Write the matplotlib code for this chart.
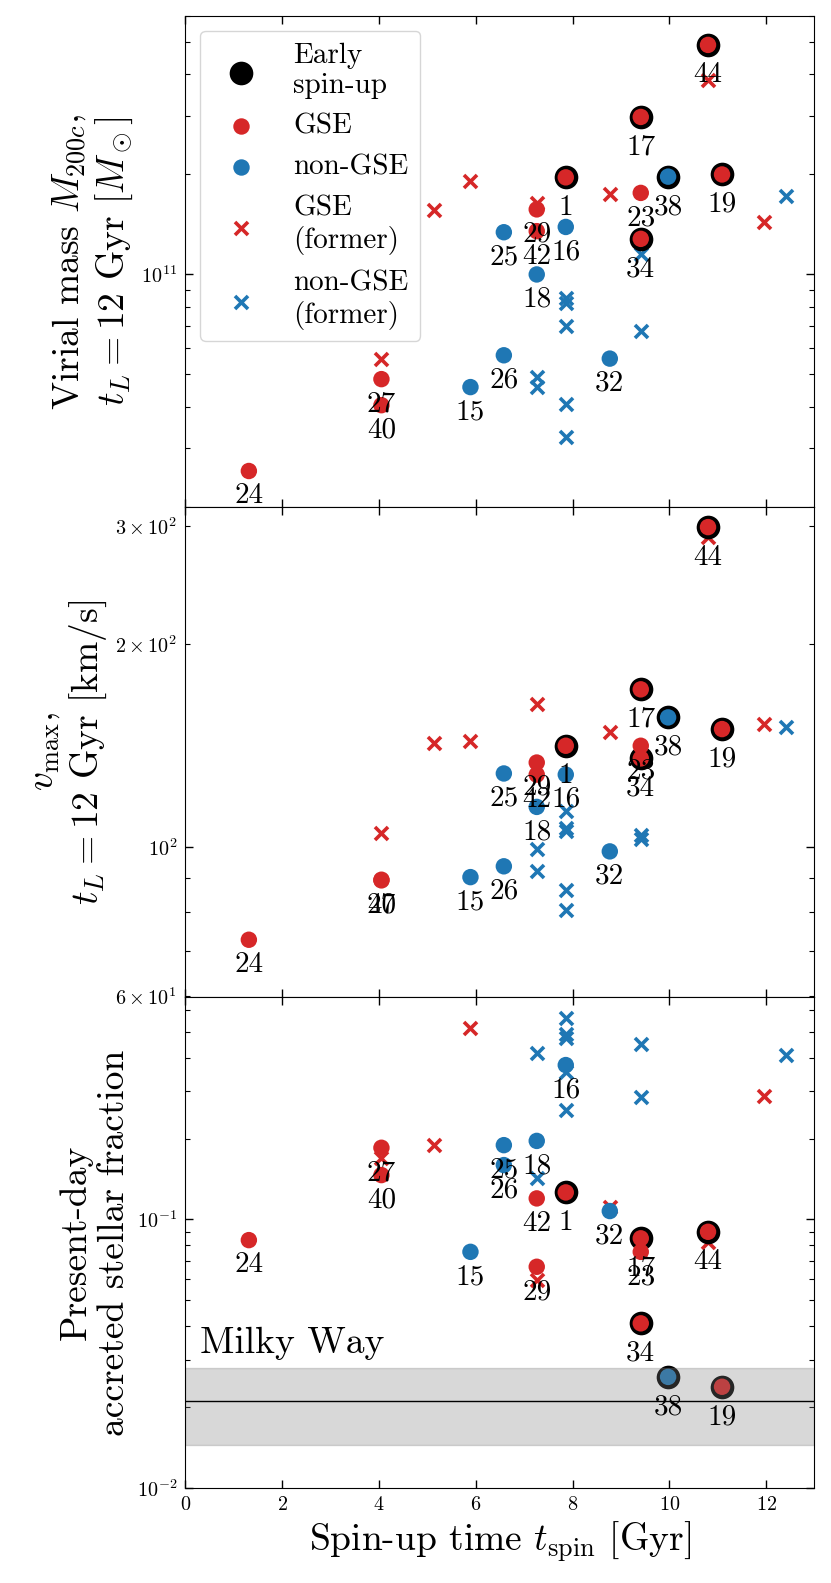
import numpy as np
import matplotlib
matplotlib.use('Agg')
import matplotlib.pyplot as plt

plt.rcParams['font.family'] = 'serif'
plt.rcParams['font.serif'] = ['cmr10']
plt.rcParams['mathtext.fontset'] = 'cm'
plt.rcParams['axes.formatter.use_mathtext'] = True
plt.rcParams['axes.unicode_minus'] = False

RED = '#d62728'
BLUE = '#1f77b4'

# labelled halos
halo_ids = [24, 27, 40, 15, 25, 26, 29, 42, 18, 1, 16, 32, 17, 23, 34, 38, 44, 19]
t_spin = [1.31, 4.05, 4.05, 5.89, 6.58, 6.58, 7.26, 7.26, 7.26, 7.86, 7.86, 8.77,
          9.41, 9.41, 9.41, 9.975, 10.80, 11.09]
is_gse = [1, 1, 1, 0, 0, 0, 1, 1, 0, 1, 0, 0, 1, 1, 1, 0, 1, 1]
early_spinup = [0, 0, 0, 0, 0, 0, 0, 0, 0, 1, 0, 0, 1, 0, 1, 1, 1, 1]

m200c = [0.256e11, 0.484e11, 0.404e11, 0.458e11, 1.34e11, 0.571e11, 1.57e11, 1.35e11,
         1.00e11, 1.96e11, 1.39e11, 0.558e11, 2.98e11, 1.76e11, 1.28e11, 1.97e11,
         4.91e11, 2.00e11]
vmax = [72.8, 89.4, 89.2, 90.2, 128.6, 93.6, 133.5, 128.1, 114.7, 141.4, 128.1, 98.5,
        171.5, 141.4, 135.4, 155.8, 298.8, 149.7]
acc_frac = [0.0837, 0.1848, 0.1462, 0.0757, 0.189, 0.1593, 0.0666, 0.1197, 0.196,
            0.126, 0.3756, 0.1074, 0.0850, 0.0757, 0.041, 0.0259, 0.0899, 0.0238]

# former GSE hosts (red crosses)
t_former_gse = [4.05, 5.13, 5.89, 7.26, 8.77, 10.80, 11.96]
m200c_former_gse = [0.555e11, 1.56e11, 1.91e11, 1.64e11, 1.75e11, 3.85e11, 1.44e11]
vmax_former_gse = [104.9, 142.5, 143.6, 162.9, 148.3, 289.3, 152.2]
frac_former_gse = [0.1687, 0.189, 0.514, 0.0594, 0.1114, 0.0821, 0.2886]

# former non-GSE hosts (blue crosses)
t_former_non = [7.26, 7.26, 7.86, 7.86, 7.86, 7.86, 7.86, 9.41, 9.41, 12.41]
m200c_former_non = [0.492e11, 0.458e11, 0.847e11, 0.818e11, 0.699e11, 0.407e11,
                    0.324e11, 1.156e11, 0.676e11, 1.72e11]
vmax_former_non = [99.4, 92.1, 113.0, 106.6, 105.6, 86.4, 80.5, 104.1, 102.7, 150.8]
frac_former_non = [0.415, 0.1429, 0.5605, 0.4887, 0.472, 0.3527, 0.2546, 0.4486,
                   0.2861, 0.409]

# Milky Way accreted fraction
mw_frac = 0.021
mw_frac_lo = 0.0145
mw_frac_hi = 0.028

ylabels = ['Virial mass $M_{200c}$,\n$t_L = 12$ Gyr $[M_\\odot]$',
           '$v_{\\rm max}$,\n$t_L = 12$ Gyr [km/s]',
           'Present-day\naccreted stellar fraction']
ylims = [(2.0e10, 6.0e11), (59.8, 320.5), (0.01, 0.672)]

fig, axes = plt.subplots(3, 1, figsize=(8.31, 15.83), dpi=100, sharex=True)
fig.subplots_adjust(left=0.2232, right=0.9801, top=0.9899, bottom=0.0601, hspace=0)

t = np.array(t_spin)
gse = np.array(is_gse, dtype=bool)
early = np.array(early_spinup, dtype=bool)
colors = np.where(gse, RED, BLUE)

panel_data = [(m200c, m200c_former_gse, m200c_former_non),
              (vmax, vmax_former_gse, vmax_former_non),
              (acc_frac, frac_former_gse, frac_former_non)]

X_SIZE = 88
X_LW = 2.6

for i, ax in enumerate(axes):
    y, y_fg, y_fn = panel_data[i]
    y = np.array(y)
    ax.set_yscale('log')

    ax.scatter(t_former_gse, y_fg, marker='x', s=X_SIZE, linewidths=X_LW, color=RED)
    ax.scatter(t_former_non, y_fn, marker='x', s=X_SIZE, linewidths=X_LW, color=BLUE)
    ax.scatter(t[early], y[early], s=290, color='k', linewidths=0)
    ax.scatter(t, y, s=140, c=colors, linewidths=0)

    for hid, tx, ty, e in zip(halo_ids, t, y, early):
        off = 27 if e else 23.3
        ax.annotate(str(hid), (tx, ty), xytext=(0, -off), textcoords='offset points',
                    ha='center', va='baseline', fontsize=21, zorder=4)

    ax.set_ylim(*ylims[i])
    ax.set_ylabel(ylabels[i], fontsize=27)
    ax.tick_params(which='both', direction='in', top=True, right=True,
                   labelsize=14.5, pad=6)
    ax.tick_params(which='major', length=6, width=1)
    ax.tick_params(which='minor', length=3.5, width=0.8)

# Milky Way band
ax = axes[2]
ax.axhspan(mw_frac_lo, mw_frac_hi, color='gray', alpha=0.3, zorder=2.5)
ax.axhline(mw_frac, color='k', lw=1, zorder=2.6)
ax.text(0.3, 0.03, 'Milky Way', fontsize=27, va='bottom', ha='left')

axes[2].set_xlim(0, 13)
axes[2].set_xticks([0, 2, 4, 6, 8, 10, 12])
axes[2].set_xlabel('Spin-up time $t_{\\rm spin}$ [Gyr]', fontsize=27)

# legend
h_early = axes[0].scatter([], [], s=290, color='k', linewidths=0, label='Early\nspin-up')
h_gse = axes[0].scatter([], [], s=140, color=RED, linewidths=0, label='GSE')
h_non = axes[0].scatter([], [], s=140, color=BLUE, linewidths=0, label='non-GSE')
h_fg = axes[0].scatter([], [], marker='x', s=X_SIZE, linewidths=X_LW, color=RED,
                       label='GSE\n(former)')
h_fn = axes[0].scatter([], [], marker='x', s=X_SIZE, linewidths=X_LW, color=BLUE,
                       label='non-GSE\n(former)')
axes[0].legend(handles=[h_early, h_gse, h_non, h_fg, h_fn], loc='upper left',
               fontsize=21, scatterpoints=1)

fig.savefig('out.png', dpi=100)
